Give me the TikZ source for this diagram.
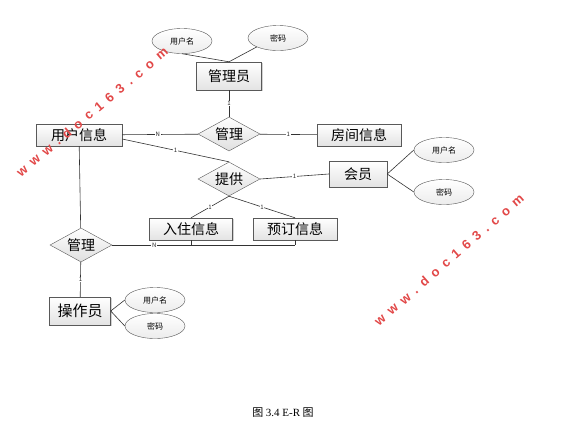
\documentclass[tikz,border=0pt]{standalone}
\usepackage{fontspec}
\setmainfont{Noto Sans CJK SC}
\newfontfamily\capfont{Liberation Serif}
\newfontfamily\wmfont[LetterSpace=50]{Liberation Sans}
\usetikzlibrary{shapes.geometric,shadows}
\definecolor{wmred}{RGB}{226,72,72}
\tikzset{
	entity/.style={draw=gray!70!black, top color=white, bottom color=gray!22,
		drop shadow={shadow xshift=1.2pt, shadow yshift=-1.2pt, opacity=.35},
		font=\fontsize{14}{14}\selectfont, inner sep=2pt, minimum height=22},
	relation/.style={diamond, draw=gray!70!black, top color=white, bottom color=gray!25,
		aspect=1.8, inner sep=0pt, minimum width=62, minimum height=34,
		font=\fontsize{14}{14}\selectfont},
	attrib/.style={ellipse, draw=gray!70!black, top color=white, bottom color=gray!15,
		minimum width=60, minimum height=25, inner sep=0pt, font=\fontsize{8}{8}\selectfont},
	card/.style={fill=white, inner sep=0.6pt, text=gray!30!black, font=\fontsize{6}{6}\selectfont},
	link/.style={draw=gray!40!black, line width=0.6pt},
	watermark/.style={text=wmred, font=\wmfont\bfseries\fontsize{13}{13}\selectfont}
}
\begin{document}
\begin{tikzpicture}[x=1pt, y=-1pt]
				\fill[white] (0,0) rectangle (565,437);
				\useasboundingbox (0,0) rectangle (565,437);

				\node (Admin) [entity, minimum width=65, minimum height=28] at (229,76) {管理员};
				\node (AdminName) [attrib] at (182,41) {用户名};
				\node (AdminPwd) [attrib] at (278,38) {密码};
				\draw [link] (AdminName.south) -- (Admin.north);
				\draw [link] (AdminPwd.south west) -- (Admin.north);

				\node (Manage) [relation] at (229,134) {管理};
				\draw [link] (Admin) -- node [card] {1} (Manage);

				\node (User) [entity, minimum width=86] at (79,135) {用户信息};
				\draw [link] (User) -- node [card, pos=0.47] {N} (Manage);

				\node (Room) [entity, minimum width=84] at (359,135) {房间信息};
				\draw [link] (Manage) -- node [card] {1} (Room);

				\node (Provide) [relation] at (229,179) {提供};
				\draw [link] ([yshift=-4pt]User.east) -- node [card] {1} (Provide.north);

				\node (Member) [entity, minimum width=58, minimum height=26] at (358,174) {会员};
				\draw [link] (Provide.east) -- node [card] {1} (Member.west);
				\node (MemberName) [attrib] at (444,150) {用户名};
				\node (MemberPwd) [attrib] at (444,192) {密码};
				\draw [link] (Member.east) -- (MemberName.west);
				\draw [link] (Member.east) -- (MemberPwd.west);

				\node (CheckIn) [entity, minimum width=83] at (191,229) {入住信息};
				\node (Booking) [entity, minimum width=84] at (295,229) {预订信息};
				\draw [link] (Provide.south) -- node [card] {1} (CheckIn.north);
				\draw [link] (Provide.south) -- node [card] {1} (Booking.north);

				\node (Manage2) [relation] at (81,245) {管理};
				\draw [link] (User) -- (Manage2);
				\draw [link] (Manage2.east) -- node [card, pos=0.23] {N} (Manage2.east -| Booking.south);
				\draw [link] (CheckIn.south) -- (CheckIn.south |- Manage2.east);
				\draw [link] (Booking.south) -- (Booking.south |- Manage2.east);

				\node (Operator) [entity, minimum width=61, minimum height=28, font=\fontsize{15}{15}\selectfont] at (80,311) {操作员};
				\draw [link] (Manage2) -- node [card] {1} (Operator);
				\node (OperName) [attrib] at (155,300) {用户名};
				\node (OperPwd) [attrib] at (155,326) {密码};
				\draw [link] (Operator.east) -- (OperName.west);
				\draw [link] (Operator.east) -- (OperPwd.west);

				\node (Caption) [font=\fontsize{11}{11}\selectfont] at (283,413) {图 {\capfont 3.4 E-R} 图};

				% watermark on top
				\node (Mark1) [watermark, rotate=40] at (92,112) {www.doc163.com};
				\node (Mark2) [watermark, rotate=41] at (449,260) {www.doc163.com};
			\end{tikzpicture}
\end{document}
